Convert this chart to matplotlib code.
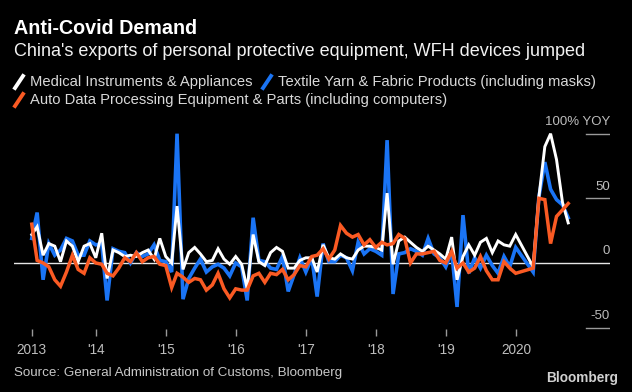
import numpy as np
import pandas as pd
import matplotlib
matplotlib.use("Agg")
import matplotlib.pyplot as plt
import matplotlib.transforms as mtransforms
from matplotlib.lines import Line2D

plt.rcParams['font.family'] = ['Liberation Sans', 'DejaVu Sans']

# monthly YoY % change, Jan 2013 .. Sep 2020 (Jan/Feb 2020 not reported)
medical = [22, 28, 6, 15, 13, 1, 17, 13, 1, 13, 15, 4, 23,
           -12, 10, 8, 5, 6, 5, 8, 10, 3, 19, 5, 0, 44,
           -5, 8, 12, 7, 1, 2, 11, 3, -1, 5, -1, -20, 22, 1, -2,
           8, 12, 9, -4, -4, 2, 4, 4, -7, 14, 4, 3, 7,
           4, 3, 10, 13, 13, 12, 10, 54, -1, 17, 20, 16, 12,
           9, 13, 10, 7, 3, 20, -13, 5, 14, 6, 16, 19, 8, 17, 14, 13, 22,
           np.nan, np.nan,
           -3, 51, 90, 100, 80, 47, 31]
textile = [19, 39, -13, 15, 6, 10, 19, 17, 6, 6, 17, 14, 15,
           -29, 11, 9, 8, 0, 8, 5, 7, 14, 2, 1, -7, 100,
           -28, -12, -4, 3, -7, -3, -1, -4, -10, 0, -3, -29, 35, 2, 1,
           -4, -5, 5, -22, -9, 4, -7, 4, -26, 15, 1, 1, 6,
           4, -6, 16, 7, 11, 9, 6, 95, -24, 7, 8, 11, 9,
           6, 19, 7, 4, -3, 9, -34, 37, -8, 4, -4, 6, -2, -8, 5, -3, 12,
           np.nan, np.nan,
           -7, 51, 78, 57, 49, 45, 35]
computers = [30, 2, 0, -3, -13, -18, -7, 6, -5, -8, 4, 0, -1,
             -8, -10, -4, 4, 1, 8, 1, 4, 5, -1, -2, -19, -8,
             -11, -15, -12, -13, -21, -17, -8, -20, -27, -20, -21, -21, -10, -8, -15,
             -8, -9, -5, -13, -9, -2, -3, 5, 6, 11, 3, 10, 29,
             23, 20, 22, 14, 18, 12, 16, 14, 15, 22, 19, 0, 7,
             7, 8, 9, 2, 0, 9, -4, 0, -7, -4, 5, -6, -13, -13, 1, -4, -8,
             np.nan, np.nan,
             -4, 50, 49, 15, 36, 41, 46]
dates = pd.date_range('2013-01-31', periods=len(medical), freq='ME')

year_labels = ['2013', "'14", "'15", "'16", "'17", "'18", "'19", '2020']
y_ticks = [100, 50, 0, -50]
y_labels = ['100% YOY', '50', '0', '-50']

WHITE = '#ffffff'
BLUE = '#1a74f5'
ORANGE = '#fa5a23'
GRAY = '#bdbdbd'

W, H = 632, 392
fig = plt.figure(figsize=(W / 100, H / 100), dpi=100, facecolor='black')


def fx(x):
    return x / W


def fy(y):
    return 1 - y / H


ax = fig.add_axes([fx(14), fy(336), fx(610) - fx(14), fy(128) - fy(336)])
ax.set_facecolor('black')

df = pd.DataFrame({'medical': medical, 'textile': textile, 'computers': computers}, index=dates)
for col, color, lw, z in [('textile', BLUE, 2.6, 3), ('medical', WHITE, 2.1, 4), ('computers', ORANGE, 2.5, 5)]:
    s = df[col].dropna()
    ax.plot(s.index, s.values, color=color, lw=lw, zorder=z, solid_joinstyle='miter')

start = pd.Timestamp('2013-01-01')
month = pd.Timedelta(days=30.44)
ax.set_xlim(start - 2.06 * month, start + 100.1 * month)
ax.set_ylim(-56.5, 104.4)

# zero line across, short guides at the right for the other levels
trans = mtransforms.blended_transform_factory(ax.transAxes, ax.transData)
for v, lab in zip(y_ticks, y_labels):
    if v == 0:
        ax.axhline(0, color='#e6e6e6', lw=1, zorder=2)
    else:
        ax.plot([0.96, 1.0], [v, v], transform=trans, color='#9a9a9a', lw=1, zorder=2)
    ax.text(1.0, v + 4.5, lab, transform=trans, ha='right', va='bottom', color=GRAY, fontsize=9.5)

tick_pos = [dates[0]] + [pd.Timestamp(f'{y}-01-01') for y in range(2014, 2021)]
ax.set_xticks(tick_pos)
ax.set_xticklabels(year_labels)
ax.tick_params(axis='x', direction='in', length=5, width=1, color='#9a9a9a',
               labelcolor=GRAY, labelsize=9.8, pad=5)
ax.set_yticks([])
for sp in ax.spines.values():
    sp.set_visible(False)

# header
fig.text(fx(14), fy(28), 'Anti-Covid Demand', color=WHITE, fontsize=14.2, fontweight='bold', va='center')
fig.text(fx(14), fy(51), "China's exports of personal protective equipment, WFH devices jumped",
         color='#f2f2f2', fontsize=13, va='center')

legend_rows = [
    (14, 82, WHITE, 'Medical Instruments & Appliances'),
    (262, 82, BLUE, 'Textile Yarn & Fabric Products (including masks)'),
    (14, 100, ORANGE, 'Auto Data Processing Equipment & Parts (including computers)'),
]
for x0, y0, color, label in legend_rows:
    fig.add_artist(Line2D([fx(x0 + 1), fx(x0 + 9)], [fy(y0 + 6), fy(y0 - 6)],
                          transform=fig.transFigure, color=color, lw=2.8))
    fig.text(fx(x0 + 16), fy(y0), label, color='#d9d9d9', fontsize=10.6, va='center')

fig.text(fx(14), fy(373), 'Source: General Administration of Customs, Bloomberg',
         color='#c8c8c8', fontsize=9.6, va='center')
fig.text(fx(618), fy(378), 'Bloomberg', color='#d0d0d0', fontsize=9.8, fontweight='bold',
         ha='right', va='center')

fig.savefig('out.png', dpi=100, facecolor='black')
